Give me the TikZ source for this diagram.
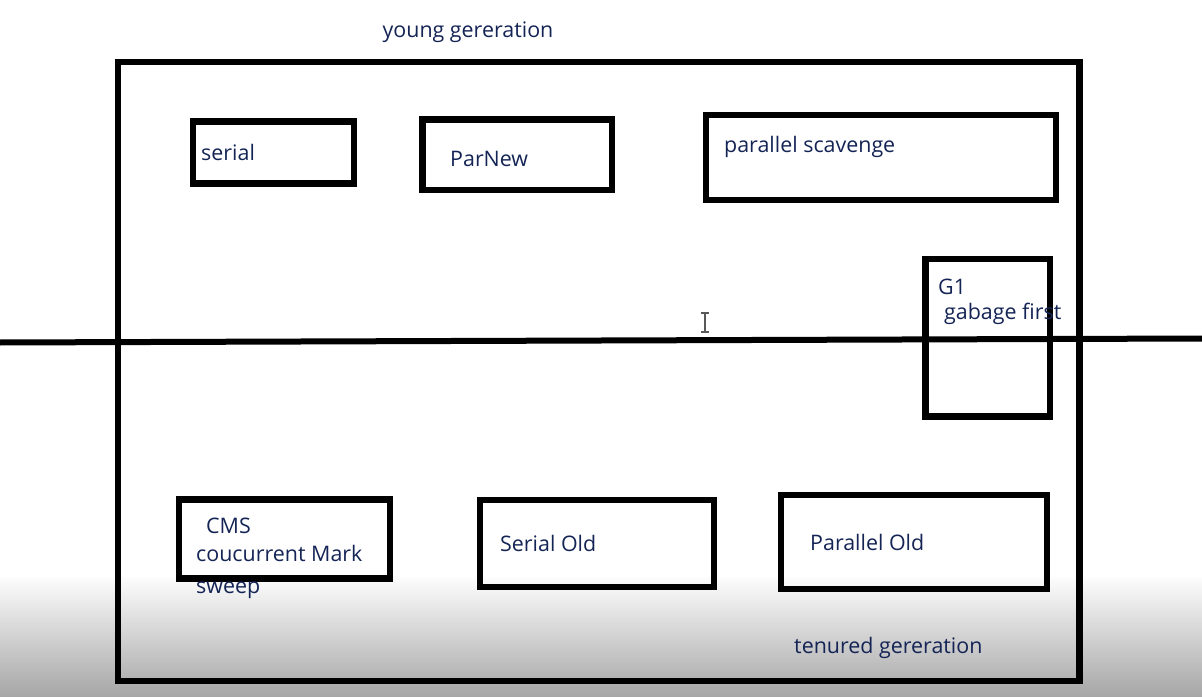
\documentclass[tikz,border=0pt]{standalone}
\usepackage{fontspec}
\setmainfont{Open Sans}
\definecolor{txt}{RGB}{20,36,85}
\begin{document}
\begin{tikzpicture}[x=1bp,y=-1bp,
  box/.style={draw=black, line width=6.5bp, rectangle, inner sep=0pt, outer sep=0pt},
  lbl/.style={anchor=west, inner sep=0pt, text=txt, font=\fontsize{21.5}{25}\selectfont}]
\useasboundingbox (0,0) rectangle (1202,697);
\shade[top color=white, bottom color=black!35] (0,574) rectangle (1202,697);
% outer frame
\node[box, minimum width=961.5bp, minimum height=619bp] (outer) at (598.75,371.5) {};
% divider line
\coordinate (hl) at (0,342.5);
\coordinate (hr) at (1202,338.5);
\draw[line width=6bp] (hl) -- (hr);
% boxes
\node[box, minimum width=161bp, minimum height=62bp] (serial) at (273.5,152.5) {};
\node[box, minimum width=189.5bp, minimum height=70.5bp] (parnew) at (517.25,154.75) {};
\node[box, minimum width=350bp, minimum height=85bp] (ps) at (881,157.5) {};
\node[box, minimum width=124.5bp, minimum height=157.5bp] (g1) at (987.75,337.75) {};
\node[box, minimum width=211bp, minimum height=79bp] (cms) at (284.5,539) {};
\node[box, minimum width=234bp, minimum height=87bp] (so) at (597,543.5) {};
\node[box, minimum width=266bp, minimum height=94bp] (po) at (914,542) {};
% texts
\node[lbl, anchor=center] (yg) at (468,32) {young gereration};
\node[lbl] (tserial) at (201,152) {serial};
\node[lbl] (tparnew) at (450,159) {ParNew};
\node[lbl] (tps) at (724,147) {parallel scavenge};
\node[lbl] (tg1) at (938,287) {G1};
\node[lbl] (tgf) at (944,314) {gabage first};
\node[lbl] (tcms) at (206,526) {CMS};
\node[lbl] (tcm) at (196,553) {coucurrent Mark};
\node[lbl] (tsw) at (196,590) {sweep};
\node[lbl] (tso) at (500,543) {Serial Old};
\node[lbl] (tpo) at (810,542) {Parallel Old};
\node[lbl] (ttg) at (794,648) {tenured gereration};
% text cursor
\draw[black!65, line width=1.3bp] (705,313) -- (705,332) (701,313) -- (709,313) (701,332) -- (709,332);
\end{tikzpicture}
\end{document}
